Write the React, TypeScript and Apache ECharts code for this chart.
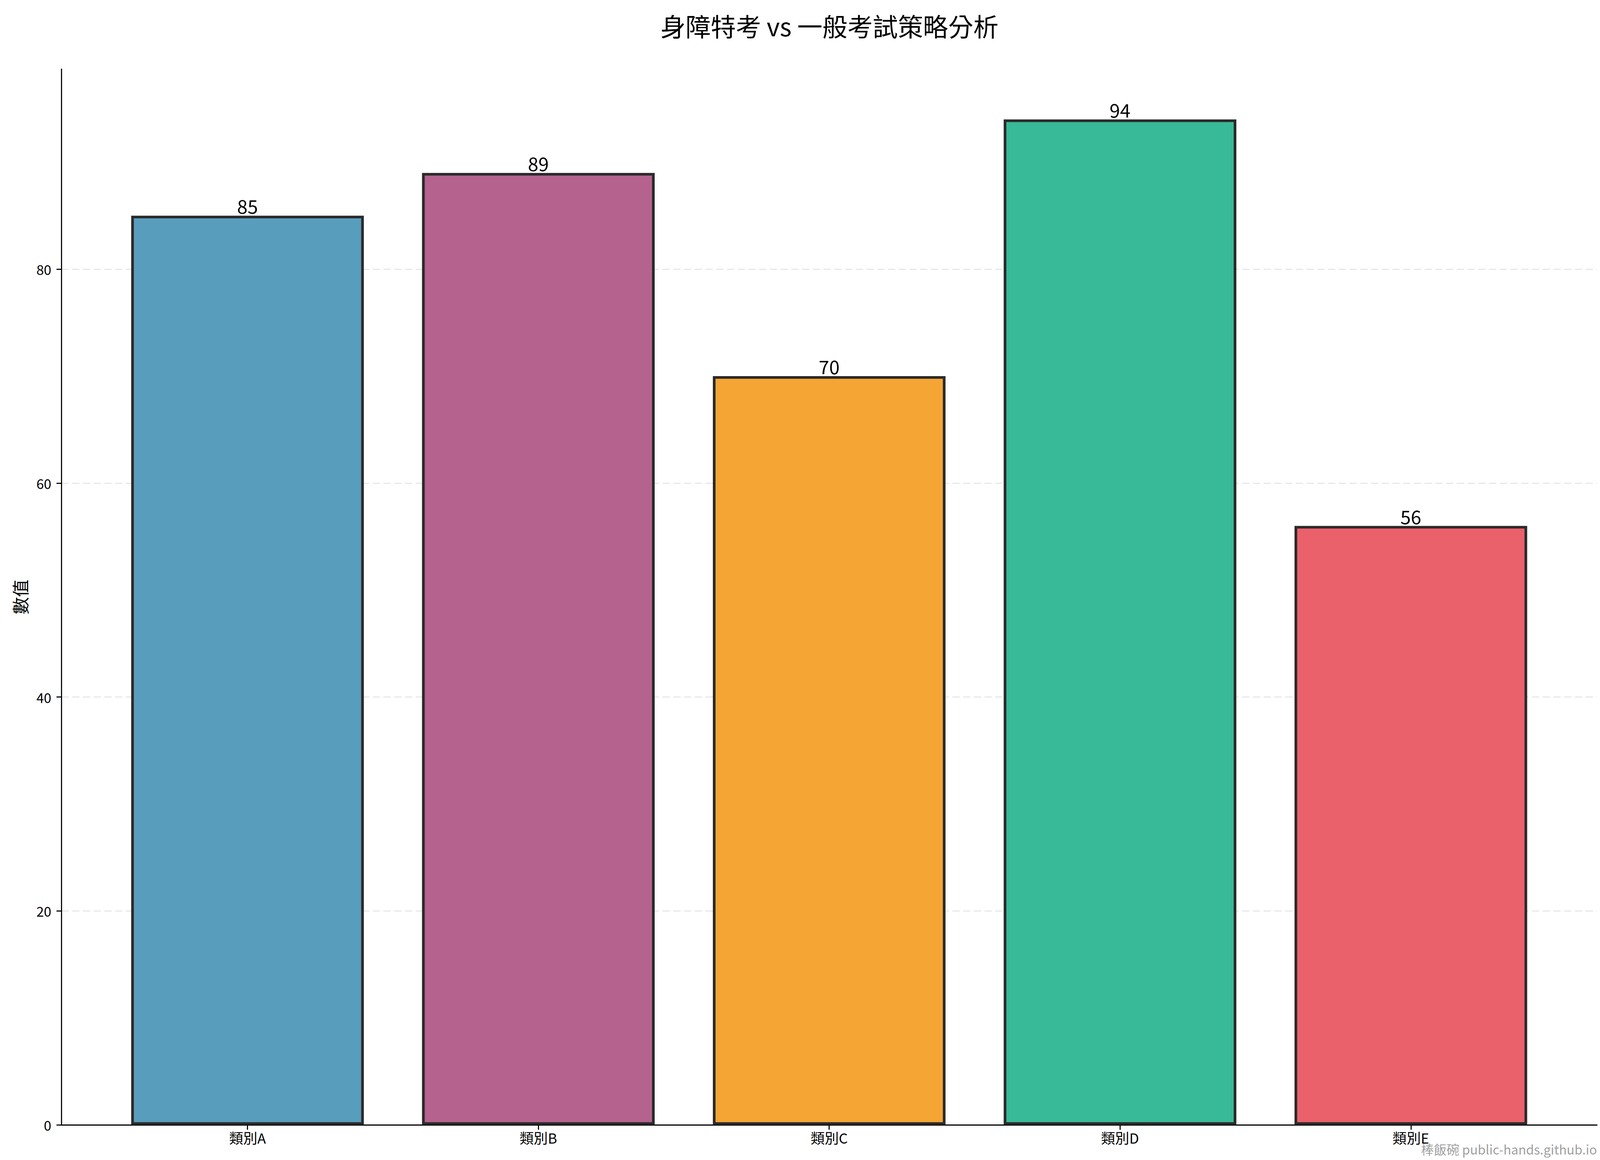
import React, { useEffect, useRef } from "react";
import * as echarts from "echarts";

// chart data
const categories = ["類別A", "類別B", "類別C", "類別D", "類別E"];
const values = [85, 89, 70, 94, 56];
const yTicks = [0, 20, 40, 60, 80];
const barColors = ["#589EBC", "#B5628E", "#F4A534", "#38B997", "#EB616B"];

const titleText = "身障特考 vs 一般考試策略分析";
const yAxisName = "數值";
const watermark = "棒飯碗 public-hands.github.io";

const FONT = "'Noto Sans CJK TC', 'Noto Sans', sans-serif";

const App: React.FC = () => {
  const chartRef = useRef<HTMLDivElement>(null);

  useEffect(() => {
    document.body.style.margin = "0";
    if (!chartRef.current) return;

    const chart = echarts.init(chartRef.current, undefined, { renderer: "svg" });

    const build = () => {
      // layout measured on a 4770x2970 canvas, scaled to the actual size
      const sx = chart.getWidth() / 4770;
      const sy = chart.getHeight() / 2970;
      const sf = Math.min(sx, sy);

      return {
        animation: false,
        backgroundColor: "#ffffff",
        title: {
          text: titleText,
          left: 2467 * sx,
          top: 28 * sy,
          textAlign: "center",
          textStyle: {
            fontFamily: FONT,
            fontSize: 75 * sf,
            fontWeight: "normal",
            color: "#000000",
          },
        },
        grid: {
          left: 183 * sx,
          right: 9 * sx,
          top: 177 * sy,
          bottom: 90 * sy,
          containLabel: false,
          outerBoundsMode: "none",
        },
        xAxis: {
          type: "value",
          min: -0.64,
          max: 4.64,
          axisLine: { show: true, onZero: false, lineStyle: { color: "#000", width: 3.3 * sf } },
          axisTick: {
            show: true,
            customValues: [0, 1, 2, 3, 4],
            length: 14.6 * sf,
            lineStyle: { color: "#000", width: 3.3 * sf },
          },
          axisLabel: {
            customValues: [0, 1, 2, 3, 4],
            formatter: (v: number) => categories[Math.round(v)] ?? "",
            fontFamily: FONT,
            fontSize: 42 * sf,
            color: "#000",
            margin: 16 * sf,
          },
          splitLine: { show: false },
        },
        yAxis: {
          type: "value",
          min: 0,
          max: 98.7,
          interval: 20,
          name: yAxisName,
          nameLocation: "middle",
          nameGap: 98 * sf,
          nameTextStyle: { fontFamily: FONT, fontSize: 52 * sf, color: "#000" },
          axisLine: { show: true, onZero: false, lineStyle: { color: "#000", width: 3.3 * sf } },
          axisTick: {
            show: true,
            customValues: yTicks,
            length: 14.6 * sf,
            lineStyle: { color: "#000", width: 3.3 * sf },
          },
          axisLabel: {
            customValues: yTicks,
            fontFamily: FONT,
            fontSize: 40 * sf,
            color: "#000",
            margin: 30 * sf,
          },
          splitLine: {
            show: true,
            lineStyle: { color: "#e4e4e4", width: 3 * sf, type: [22 * sf, 10 * sf] },
          },
        },
        graphic: [
          {
            type: "text",
            right: 9 * sx,
            bottom: 12 * sy,
            style: {
              text: watermark,
              fontFamily: FONT,
              fontSize: 38 * sf,
              fill: "#a0a0a0",
            },
          },
        ],
        series: [
          {
            type: "bar",
            barWidth: "80%",
            data: values.map((v, i) => ({
              value: [i, v],
              itemStyle: { color: barColors[i] },
            })),
            itemStyle: { borderColor: "#2a2a2a", borderWidth: 8 * sf },
            label: {
              show: true,
              position: "top",
              distance: 2 * sf,
              formatter: (p: any) => String(p.value[1]),
              fontFamily: FONT,
              fontSize: 56 * sf,
              color: "#000",
            },
          },
        ],
      };
    };

    chart.setOption(build());
    const onResize = () => {
      chart.resize();
      chart.setOption(build());
    };
    window.addEventListener("resize", onResize);

    return () => {
      window.removeEventListener("resize", onResize);
      chart.dispose();
    };
  }, []);

  return (
    <div
      ref={chartRef}
      style={{ position: "fixed", left: 0, top: 0, width: "100vw", height: "100vh" }}
    />
  );
};

export default App;
